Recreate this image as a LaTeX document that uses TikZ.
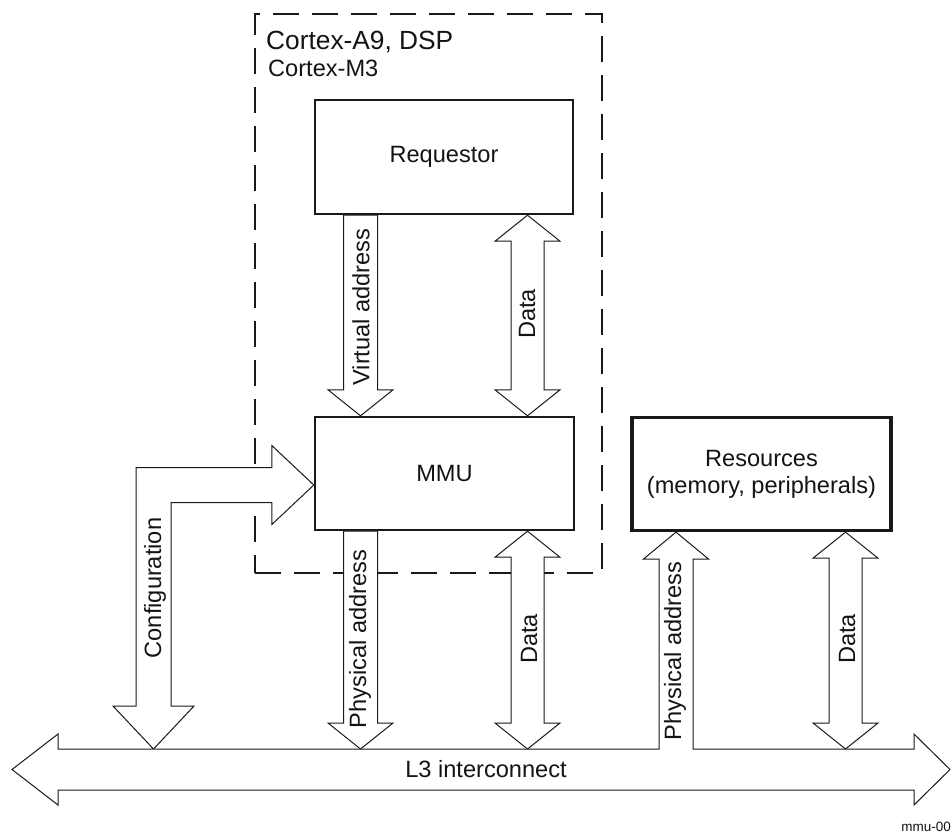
\documentclass[tikz,border=0pt]{standalone}
\usepackage{fontspec}
\setmainfont{Liberation Sans}
\usetikzlibrary{calc}
\newcommand\downblock[2]{\draw[blockarrow] let \p1=#1, \p2=#2 in
  (\x1-17pt,\y1) -- (\x1+17pt,\y1) -- (\x1+17pt,\y2+26pt) -- (\x1+32.5pt,\y2+26pt)
  -- (\x2,\y2) -- (\x1-32.5pt,\y2+26pt) -- (\x1-17pt,\y2+26pt) -- cycle;}
\newcommand\dblblock[2]{\draw[blockarrow] let \p1=#1, \p2=#2 in
  (\x1,\y1) -- (\x1+32.5pt,\y1-26pt) -- (\x1+16.5pt,\y1-26pt) -- (\x1+16.5pt,\y2+26pt)
  -- (\x1+32.5pt,\y2+26pt) -- (\x2,\y2) -- (\x1-32.5pt,\y2+26pt) -- (\x1-16.5pt,\y2+26pt)
  -- (\x1-16.5pt,\y1-26pt) -- (\x1-32.5pt,\y1-26pt) -- cycle;}
\begin{document}
\begin{tikzpicture}[x=1pt,y=-1pt,
  txt/.style={font=\fontsize{23.6}{28}\selectfont, text=black!92, inner sep=0pt},
  lbl/.style={txt, rotate=90},
  blockbox/.style={draw=black!90, line width=2.4pt, fill=white, inner sep=0pt, txt},
  dashbox/.style={draw=black!90, line width=2pt, dash pattern=on 26pt off 13pt, inner sep=0pt},
  blockarrow/.style={draw=black!90, line width=1pt, fill=white, line join=miter}]
\useasboundingbox (0,0) rectangle (952,833);
\fill[white] (0,0) rectangle (952,833);
% column coordinates
\coordinate (c1) at (360.5,0);
\coordinate (c2) at (527.5,0);
\coordinate (c3) at (676,0);
\coordinate (c4) at (845.5,0);
\coordinate (cfg) at (153.5,0);
\coordinate (l3top) at (486,749);
% processor frame
\node[dashbox, minimum width=347pt, minimum height=559pt] (cpu) at (428.5,293.5) {};
\node[txt, font=\fontsize{26.3}{30}\selectfont, anchor=base west] (cpua) at (266,49) {Cortex-A9, DSP};
\node[txt, anchor=base west] (cpum) at (268,76) {Cortex-M3};
% blocks
\node[blockbox, minimum width=258pt, minimum height=114pt] (req) at (444,157) {Requestor};
\node[blockbox, minimum width=259pt, minimum height=113pt] (mmu) at (444.5,473.5) {MMU};
\node[blockbox, line width=3.3pt, minimum width=259pt, minimum height=113pt, align=center,
      font=\fontsize{23.6}{27}\selectfont] (res) at (761.5,474) {Resources\\(memory, peripherals)};
% arrows between requestor and MMU
\downblock{(c1 |- req.south)}{(c1 |- mmu.north)}
\dblblock{(c2 |- req.south)}{(c2 |- mmu.north)}
% arrows from MMU to L3
\downblock{(c1 |- mmu.south)}{(c1 |- l3top)}
\dblblock{(c2 |- mmu.south)}{(c2 |- l3top)}
% resources data
\dblblock{(c4 |- res.south)}{(c4 |- l3top)}
% configuration bent arrow
\draw[blockarrow] let \p1=([yshift=-11.5pt]mmu.west), \p2=(cfg |- l3top) in
  (\x1,\y1) -- (\x1-42pt,\y1+39.5pt) -- (\x1-42pt,\y1+17.5pt) -- (\x2-17.5pt,\y1+17.5pt)
  -- (\x2-17.5pt,\y2+43pt) -- (\x2-40.5pt,\y2+43pt) -- (\x2,\y2) -- (\x2+40.5pt,\y2+43pt)
  -- (\x2+17.5pt,\y2+43pt) -- (\x2+17.5pt,\y1-17.5pt) -- (\x1-42pt,\y1-17.5pt)
  -- (\x1-42pt,\y1-39.5pt) -- cycle;
% L3 interconnect merged with physical address arrow to resources
\draw[blockarrow] let \p1=(c3 |- res.south) in
  (12,769.5) -- (58,734) -- (58,749) -- (\x1-17pt,-749pt) -- (\x1-17pt,-559pt)
  -- (\x1-32.5pt,-559pt) -- (\x1,\y1) -- (\x1+32.5pt,-559pt) -- (\x1+17pt,-559pt)
  -- (\x1+17pt,-749pt) -- (914,749) -- (914,734) -- (950,769.5) -- (914,805)
  -- (914,790) -- (58,790) -- (58,805) -- cycle;
% labels
\node[lbl] (lva) at (361,307) {Virtual address};
\node[lbl] (ld1) at (527,314) {Data};
\node[lbl] (lpa1) at (360,639) {Physical address};
\node[lbl] (ld2) at (529,639) {Data};
\node[lbl] (lpa2) at (675,651) {Physical address};
\node[lbl] (ld3) at (847,639) {Data};
\node[lbl] (lcfg) at (155,588) {Configuration};
\node[txt] (l3) at (486,769.5) {L3 interconnect};
\node[txt, font=\fontsize{13.5}{16}\selectfont, anchor=base east] (fig) at (951,831) {mmu-00};
\end{tikzpicture}
\end{document}
